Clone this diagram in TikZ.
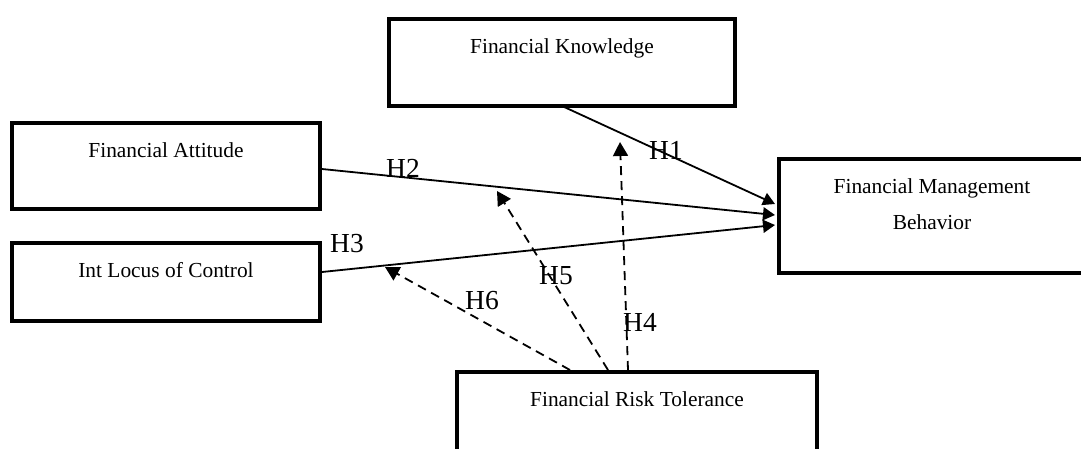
\documentclass[tikz,border=0pt]{standalone}
\usepackage{fontspec}
\setmainfont{Liberation Serif}
\usetikzlibrary{arrows.meta,calc}
\begin{document}
\begin{tikzpicture}[x=1pt,y=-1pt,
  box/.style={draw, rectangle, line width=4.5pt, inner sep=0pt, outer sep=0pt},
  boxtext/.style={anchor=base, inner sep=0pt, font=\fontsize{21.4}{26}\selectfont},
  hlabel/.style={inner sep=0pt, font=\fontsize{27.5}{33}\selectfont},
  solidarrow/.style={line width=1.8pt, -{Triangle[length=12pt,width=13pt]}},
  dasharrow/.style={line width=1.8pt, dash pattern=on 9pt off 6pt, -{Triangle[length=14pt,width=15pt]}}
]
\clip (0,0) rectangle (1081,448);
\fill[white] (0,0) rectangle (1081,448);

% boxes
\node[box, minimum width=346pt, minimum height=87pt] (fk) at (562,62.5) {};
\node[box, minimum width=308pt, minimum height=86pt] (fa) at (166,166) {};
\node[box, minimum width=308pt, minimum height=78pt] (ilc) at (166,282) {};
\node[box, minimum width=306pt, minimum height=114pt] (fmb) at (932,216) {};
\node[box, minimum width=360pt, minimum height=96pt] (frt) at (637,420) {};

% box texts
\node[boxtext] (fkt) at ($(fk.north)+(0,34)$) {Financial Knowledge};
\node[boxtext] (fat) at ($(fa.north)+(0,34)$) {Financial Attitude};
\node[boxtext] (ilct) at ($(ilc.north)+(0,34)$) {Int Locus of Control};
\node[boxtext] (fmbt1) at ($(fmb.north)+(0,34)$) {Financial Management};
\node[boxtext] (fmbt2) at ($(fmb.north)+(0,70)$) {Behavior};
\node[boxtext] (frtt) at ($(frt.north)+(0,34)$) {Financial Risk Tolerance};

% free ends of the moderating arrows
\coordinate (h4tip) at (620,142);
\coordinate (h5tip) at (497,191);
\coordinate (h6tip) at (385,267);

% direct effects
\draw[solidarrow] (fk.south) -- ($(fmb.west)+(-4,-12)$);
\draw[solidarrow] ($(fa.east)+(2,3)$) -- ($(fmb.west)+(-4,-1)$);
\draw[solidarrow] ($(ilc.east)+(2,-10)$) -- ($(fmb.west)+(-4,9)$);

% moderating effects
\draw[dasharrow] ($(frt.north)+(-9,-2)$) -- (h4tip);
\draw[dasharrow] ($(frt.north)+(-29,-2)$) -- (h5tip);
\draw[dasharrow] ($(frt.north)+(-67,-2)$) -- (h6tip);

% labels
\node[hlabel] (lh1) at (666,150) {H1};
\node[hlabel] (lh2) at (403,168) {H2};
\node[hlabel] (lh3) at (347,244) {H3};
\node[hlabel] (lh4) at (640,322) {H4};
\node[hlabel] (lh5) at (556,276) {H5};
\node[hlabel] (lh6) at (482,301) {H6};
\end{tikzpicture}
\end{document}
